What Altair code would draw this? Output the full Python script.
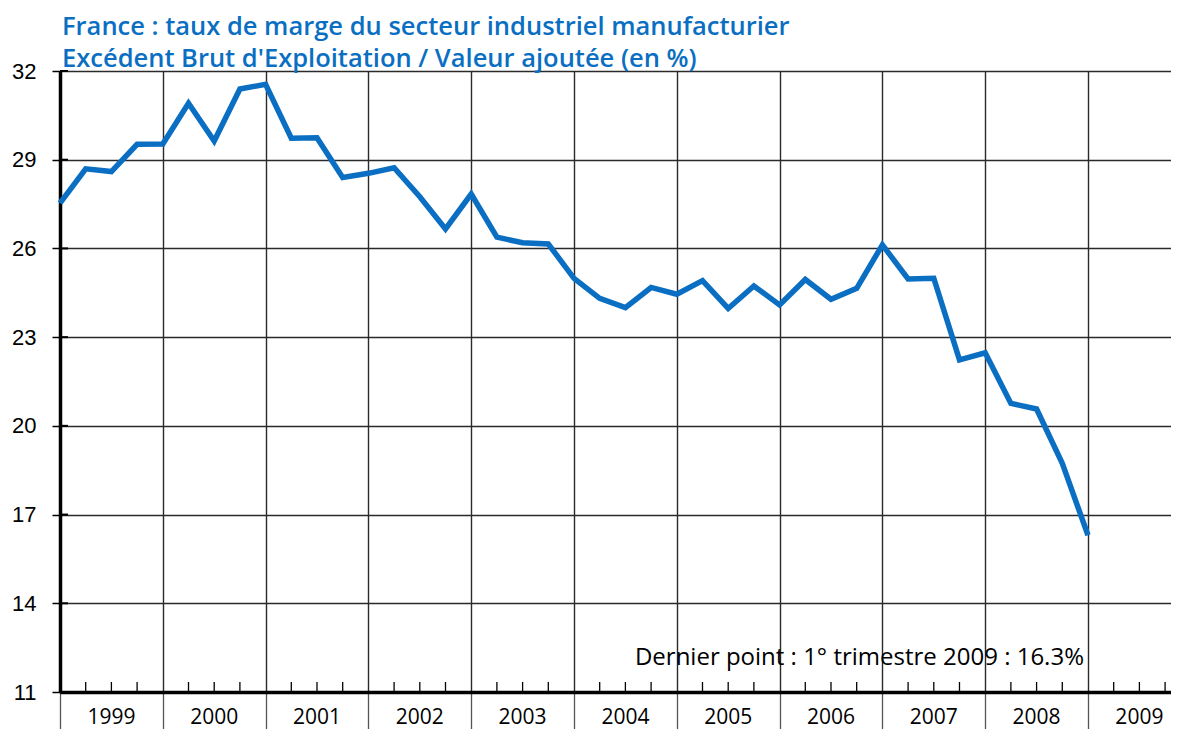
import altair as alt
import pandas as pd

title_lines = [
    "France : taux de marge du secteur industriel manufacturier",
    "Excédent Brut d'Exploitation / Valeur ajoutée (en %)",
]
years = [1999, 2000, 2001, 2002, 2003, 2004, 2005, 2006, 2007, 2008, 2009]
values = [
    27.53, 28.69, 28.60, 29.52,
    29.53, 30.91, 29.63, 31.39,
    31.55, 29.73, 29.74, 28.40,
    28.54, 28.73, 27.75, 26.66,
    27.84, 26.38, 26.19, 26.15,
    24.99, 24.31, 24.00, 24.68,
    24.45, 24.91, 23.97, 24.73,
    24.09, 24.95, 24.28, 24.65,
    26.12, 24.97, 24.99, 22.23,
    22.47, 20.76, 20.57, 18.73,
    16.30,
]
y_ticks = [11, 14, 17, 20, 23, 26, 29, 32]
note = "Dernier point : 1° trimestre 2009 : 16.3%"

W, H = 1111, 621
BLUE = "#0a6fc2"
FONT = "Open Sans"
NUMFONT = "Liberation Sans"
GRID = "#2a2a2a"

df = pd.DataFrame({"q": list(range(len(values))), "v": values})
year_df = pd.DataFrame({"year": [str(y) for y in years],
                        "qc": [4 * i + 2 for i in range(len(years))]})
bounds = [4 * i for i in range(len(years))]
qtick_df = pd.DataFrame({"qt": [i for i in range(4 * len(years)) if i % 4 != 0]})
ytick_df = pd.DataFrame({"yt": y_ticks})

x_scale = alt.Scale(domain=[0, 43.23], nice=False, zero=False)
y_scale = alt.Scale(domain=[11, 32], nice=False, zero=False)

x_axis = alt.Axis(values=bounds, grid=True, gridColor=GRID, gridWidth=1.4, gridOpacity=1,
                  ticks=True, tickSize=46, tickColor="#555", tickWidth=1.3,
                  labels=False, domainColor="black", domainWidth=3.5, title=None)
y_axis = alt.Axis(values=y_ticks, grid=True, gridColor=GRID, gridWidth=1.4, gridOpacity=1,
                  ticks=True, tickSize=8, tickColor="black", tickWidth=1.5,
                  labelFontSize=22, labelFont=NUMFONT, labelColor="black", labelPadding=16,
                  domainColor="black", domainWidth=3.5, title=None)

line = alt.Chart(df).mark_line(color=BLUE, strokeWidth=5.5, strokeJoin="miter").encode(
    x=alt.X("q:Q", scale=x_scale, axis=x_axis),
    y=alt.Y("v:Q", scale=y_scale, axis=y_axis),
)

qticks = alt.Chart(qtick_df).mark_rule(color="black", strokeWidth=1.3).encode(
    x=alt.X("qt:Q", scale=x_scale),
    y=alt.value(H - 10),
    y2=alt.value(H),
)

yticks_in = alt.Chart(ytick_df).mark_rule(color="black", strokeWidth=2).encode(
    y=alt.Y("yt:Q", scale=y_scale),
    x=alt.value(0),
    x2=alt.value(8),
)

year_labels = alt.Chart(year_df).mark_text(
    fontSize=21, font=FONT, color="black", align="center", baseline="alphabetic"
).encode(
    x=alt.X("qc:Q", scale=x_scale),
    y=alt.value(H + 32),
    text="year:N",
)

t1 = alt.Chart(pd.DataFrame({"t": [title_lines[0]]})).mark_text(
    fontSize=25.5, font=FONT, fontWeight=600, color=BLUE, align="left", baseline="alphabetic"
).encode(x=alt.value(2), y=alt.value(-36), text="t:N")
t2 = alt.Chart(pd.DataFrame({"t": [title_lines[1]]})).mark_text(
    fontSize=25.5, font=FONT, fontWeight=600, color=BLUE, align="left", baseline="alphabetic"
).encode(x=alt.value(2), y=alt.value(-4), text="t:N")

note_layer = alt.Chart(pd.DataFrame({"t": [note], "x": [40], "y": [11]})).mark_text(
    fontSize=24, font=FONT, color="black", align="right", baseline="alphabetic", dx=-4, dy=-27
).encode(
    x=alt.X("x:Q", scale=x_scale),
    y=alt.Y("y:Q", scale=y_scale),
    text="t:N",
)

chart = alt.layer(line, qticks, yticks_in, year_labels, note_layer, t1, t2).properties(
    width=W, height=H,
    autosize=alt.AutoSizeParams(type="none"),
    padding={"left": 52, "top": 63, "right": 0, "bottom": 37},
).configure_view(stroke=None)

chart.save("out.html", embed_options={"renderer": "svg", "actions": False})
